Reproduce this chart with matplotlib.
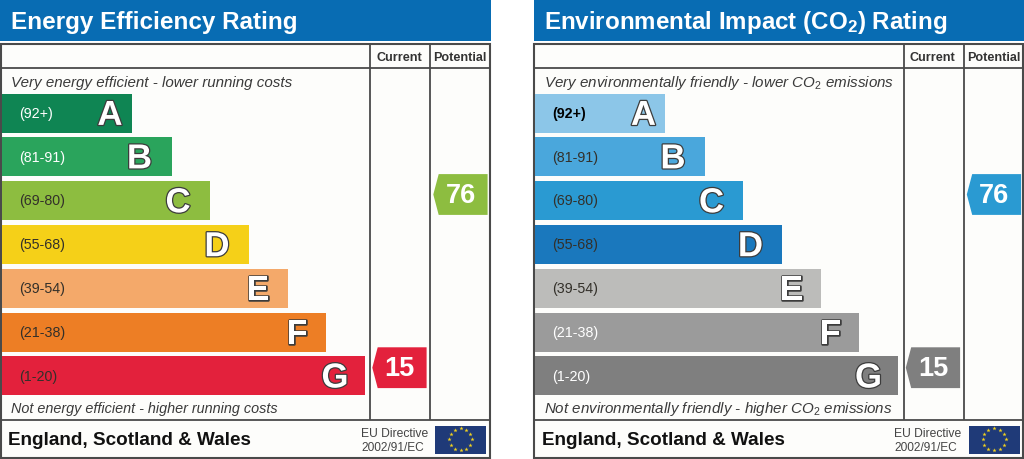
import numpy as np
import matplotlib
matplotlib.use("Agg")
import matplotlib.pyplot as plt
import matplotlib.patheffects as pe
from matplotlib.patches import Polygon, Rectangle

plt.rcParams['font.family'] = ['Liberation Sans', 'DejaVu Sans']
plt.rcParams['mathtext.fontset'] = 'custom'
plt.rcParams['mathtext.rm'] = 'Liberation Sans'
plt.rcParams['mathtext.it'] = 'Liberation Sans:italic'
plt.rcParams['mathtext.bf'] = 'Liberation Sans:bold'

grades = ['A', 'B', 'C', 'D', 'E', 'F', 'G']
ranges = ['(92+)', '(81-91)', '(69-80)', '(55-68)', '(39-54)', '(21-38)', '(1-20)']
bar_lengths = [130, 170, 208, 247, 286, 324, 363]
letter_centres = [110, 139.5, 178, 217, 258, 297, 335]
band_tops = [94.6, 138.1, 182.0, 225.9, 269.7, 313.5, 357.2]
band_height = 39

energy_colors = ['#0f8553', '#2aa45c', '#8dbd40', '#f5d018', '#f4a96a', '#ed7e25', '#e3213c']
energy_text = ['white', 'white', '#33302a', '#33302a', '#33302a', '#33302a', '#33302a']
env_colors = ['#8cc6e8', '#4aa7dc', '#2a9ad2', '#1a78bd', '#bcbcba', '#9b9b9b', '#7f7f7f']
env_text = ['black', '#33302a', '#33302a', '#33302a', '#33302a', 'white', 'white']

current_value = 15
potential_value = 76
current_band = 6
potential_band = 2

fig = plt.figure(figsize=(10.24, 4.6), dpi=100, facecolor='white')
ax = fig.add_axes([0, 0, 1, 1])
ax.set_xlim(0, 1024)
ax.set_ylim(460, 0)
ax.axis('off')

FRAME = '#4a4a4a'


def tag(x0, band, value, color, rise):
    cy = band_tops[band] + band_height / 2 - rise
    h = 20.4
    w = 54.3
    ax.add_patch(Polygon([(x0, cy), (x0 + 5.4, cy - h), (x0 + w, cy - h), (x0 + w, cy + h), (x0 + 5.4, cy + h)],
                         closed=True, fc=color, ec='none', zorder=3))
    ax.text(x0 + 27.5, cy + 0.5, str(value), color='white', fontsize=19.5, fontweight='bold',
            ha='center', va='center', zorder=4)


def panel(ox, width, title, title_size, text_dx, bar_dx, top_note, top_size, bottom_note, bottom_size, colors, text_colors):
    ax.add_patch(Rectangle((ox, 0), width + 0.5, 41.5, fc='#086cb3', ec='none'))
    ax.text(ox + 11 + text_dx, 22, title, color='white', fontsize=title_size, fontweight='bold', va='center', ha='left')
    ax.add_patch(Rectangle((ox + 0.8, 44.5), width - 1.5, 414.5, fc='#fdfdfb', ec=FRAME, lw=1.5, zorder=1))
    ax.plot([ox + 370, ox + 370], [44.5, 420], color=FRAME, lw=1.3, zorder=2)
    ax.plot([ox + 430, ox + 430], [44.5, 420], color=FRAME, lw=1.3, zorder=2)
    ax.plot([ox + 1, ox + width - 1], [69, 69], color=FRAME, lw=1.3, zorder=2)
    ax.plot([ox + 1, ox + width - 1], [420.5, 420.5], color=FRAME, lw=1.3, zorder=2)
    ax.text(ox + 399, 57.7, 'Current', fontsize=9.1, fontweight='bold', color='#333333', ha='center', va='center', zorder=4)
    ax.text(ox + 460, 57.7, 'Potential', fontsize=9.1, fontweight='bold', color='#333333', ha='center', va='center', zorder=4)
    ax.text(ox + 11 + text_dx, 83, top_note, fontsize=top_size, style='italic', color='#3a3a3a', va='center', zorder=4)
    ax.text(ox + 11 + text_dx, 409.5, bottom_note, fontsize=bottom_size, style='italic', color='#3a3a3a', va='center', zorder=4)
    centres = [t + band_height / 2 for t in band_tops]
    ax.barh(centres, bar_lengths, height=band_height, left=ox + 2 + bar_dx, color=colors, edgecolor='none', zorder=3)
    for c, g, r, lc, tc in zip(centres, grades, ranges, letter_centres, text_colors):
        ax.text(ox + 19, c, r, fontsize=10.3, color=tc, va='center', ha='left', zorder=4,
                fontweight='bold' if tc == 'black' else 'normal')
        ax.text(ox + lc, c + 2.3, g, fontsize=25, fontweight='bold', color='white', ha='center', va='center', zorder=5,
                path_effects=[pe.withStroke(linewidth=1.8, foreground='#3c3c3c')])
    tag(ox + 372.3, current_band, current_value, colors[current_band], 8.0)
    tag(ox + 433.3, potential_band, potential_value, colors[potential_band], 6.0)
    ax.text(ox + 8, 440.5, 'England, Scotland & Wales', fontsize=13.6, fontweight='bold', color='#111111', va='center', zorder=4)
    ax.text(ox + 361, 434.5, 'EU Directive', fontsize=8.7, color='#444444', va='center', zorder=4)
    ax.text(ox + 361, 448.5, '2002/91/EC', fontsize=8.6, color='#444444', va='center', zorder=4)
    ax.add_patch(Rectangle((ox + 435, 426.7), 51, 27.8, fc='#1f3a78', ec='none', zorder=4))
    angles = np.deg2rad(np.arange(0, 360, 30))
    ax.plot(ox + 460.5 + 11.5 * np.cos(angles), 440.3 + 11 * np.sin(angles), ls='none', marker='*',
            ms=3.2, mfc='#f2d21e', mec='none', zorder=5)


panel(0, 490.5, 'Energy Efficiency Rating', 17.5, 0, 0,
      'Very energy efficient - lower running costs', 10.9,
      'Not energy efficient - higher running costs', 10.4,
      energy_colors, energy_text)
panel(533.5, 490, r'Environmental Impact (CO$\mathbf{_2}$) Rating', 17.35, -1, -0.5,
      r'Very environmentally friendly - lower CO$\mathit{_2}$ emissions', 10.9,
      r'Not environmentally friendly - higher CO$\mathit{_2}$ emissions', 10.9,
      env_colors, env_text)

fig.savefig('out.png', dpi=100, facecolor='white')
